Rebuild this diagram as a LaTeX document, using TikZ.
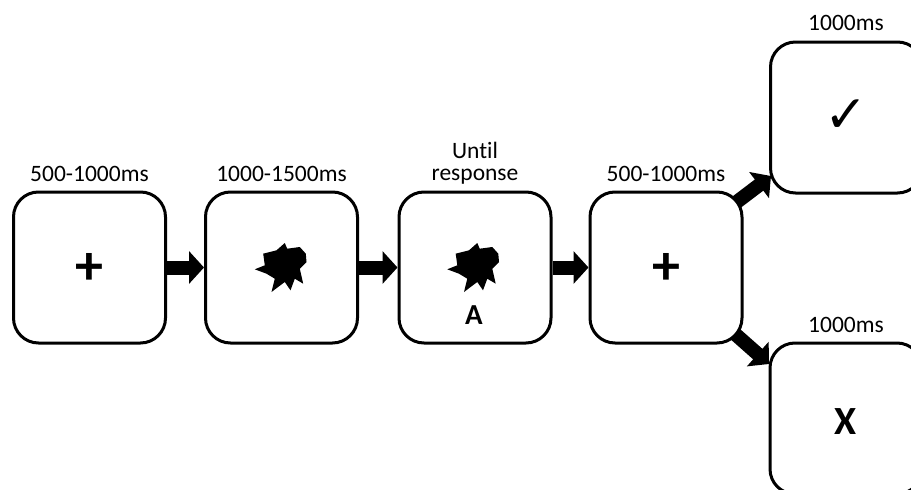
\documentclass[tikz,border=0pt]{standalone}
\usepackage{fontspec}
\setmainfont{Carlito}[Ligatures=NoCommon]
\newfontfamily\symfont{DejaVu Sans}
\usetikzlibrary{arrows.meta,backgrounds}
\begin{document}
\begin{tikzpicture}[x=1pt,y=-1pt,
  screen/.style={draw, line width=3pt, rounded corners=25pt, fill=white,
    minimum width=152pt, minimum height=151pt, inner sep=0pt},
  lbl/.style={font=\fontsize{23.5}{22}\selectfont, inner sep=0pt, align=center},
  flow/.style={line width=14pt, -{Triangle[length=15pt,width=32pt]}},
  blob/.pic={\fill[black] (-26.7,2.3) -- (-16.7,-1.7) -- (-18.3,-13.3) -- (-5,-16.7)
     -- (3.3,-24) -- (5.7,-18.3) -- (18.3,-20) -- (24.3,-13.3) -- (25,-5)
     -- (18.3,1.7) -- (21.7,16.7) -- (13.3,11.7) -- (9,23.3) -- (3.3,15)
     -- (-10,25) -- (-6.7,11.7) -- (-15,6.7) -- cycle;}
]
\useasboundingbox (0,0) rectangle (911,490);
\clip (0,0) rectangle (911,490);

% screens
\node[screen] (b1) at (89.5,267.5) {};
\node[screen] (b2) at (281.5,267.5) {};
\node[screen] (b3) at (475,267.5) {};
\node[screen] (b4) at (666,267.5) {};
\node[screen] (b5) at (846.5,117.5) {};
\node[screen] (b6) at (846,418.5) {};

% contents
\node[font=\fontsize{56}{56}\selectfont\bfseries, inner sep=0pt] (p1) at (89.5,269) {+};
\pic at (281.5,267) {blob};
\pic at (474,267) {blob};
\node[font=\fontsize{29}{29}\selectfont\bfseries, inner sep=0pt] (a3) at (474,315) {A};
\node[font=\fontsize{56}{56}\selectfont\bfseries, inner sep=0pt] (p4) at (666,269) {+};
\node[font=\fontsize{52}{52}\selectfont\symfont, inner sep=0pt] (ck) at (846,116) {✓};
\node[font=\fontsize{40}{40}\selectfont\bfseries, inner sep=0pt] (xx) at (846,422) {X};

% labels
\node[lbl] (l1) at (89.5,174) {500-1000ms};
\node[lbl] (l2) at (281.5,174) {1000-1500ms};
\node[lbl] (l3) at (475,163) {Until\\response};
\node[lbl] (l4) at (666,174) {500-1000ms};
\node[lbl] (l5) at (846,23) {1000ms};
\node[lbl] (l6) at (846,325) {1000ms};

% arrows
\coordinate (s5) at (717,217);
\coordinate (t5) at (771,176);
\coordinate (s6) at (717,318);
\coordinate (t6) at (769,364);
\begin{scope}[on background layer]
\draw[flow] (b1.east) -- (b2.west);
\draw[flow] (b2.east) -- (b3.west);
\draw[flow] (b3.east) -- (b4.west);
\draw[flow] (s5) -- (t5);
\draw[flow] (s6) -- (t6);
\end{scope}
\end{tikzpicture}
\end{document}
